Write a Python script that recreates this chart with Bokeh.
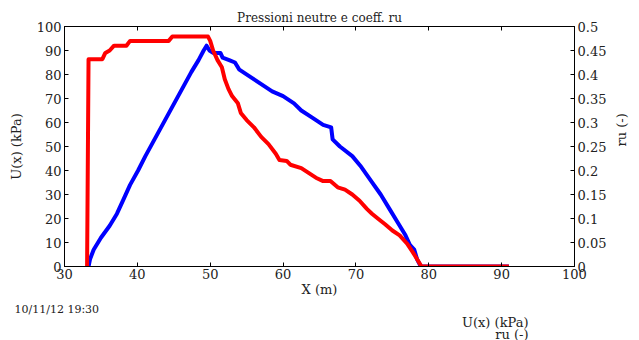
import math
from bokeh.plotting import figure
from bokeh.layouts import column
from bokeh.models import (Range1d, LinearAxis, FixedTicker, Label, Legend, LegendItem, Title)
from bokeh.core.properties import value
from bokeh.embed import file_html
from bokeh.resources import INLINE

# ---- data ----
u_x = [33.3, 33.5, 34.0, 35.0, 36.2, 37.2, 38.1, 39.0, 40.1, 41.1, 42.0, 42.9, 43.8, 44.7,
       45.6, 46.5, 47.4, 48.4, 49.1, 49.5, 49.9, 50.4, 51.4, 51.7, 52.6, 53.4, 54.0, 55.5,
       57.0, 58.5, 60.0, 61.5, 62.5, 64.0, 65.5, 66.6, 66.8, 67.8, 69.5, 70.6, 72.0, 73.4,
       74.6, 75.8, 76.8, 77.4, 78.0, 78.4, 78.9, 91.0]
u_val = [0, 3, 7, 12, 17, 22, 28, 34, 40, 46, 51, 56, 61, 66,
         71, 76, 81, 86, 90, 92, 90, 89, 89, 87, 86, 85, 82, 79,
         76, 73, 71, 68, 65, 62, 59, 58, 53, 50, 46, 42, 36, 30,
         24, 18, 13, 9, 7, 3, 0, 0]

ru_x = [33.1, 33.3, 35.2, 35.6, 36.2, 36.8, 38.5, 39.0, 44.3, 44.8, 49.7, 50.0, 50.4, 51.0,
        51.6, 52.0, 52.5, 53.0, 53.8, 54.2, 55.0, 56.0, 57.0, 58.0, 59.0, 59.5, 60.5, 61.0,
        62.5, 63.5, 64.5, 65.5, 66.5, 67.5, 68.5, 69.5, 70.5, 71.5, 72.2, 73.0, 74.0, 75.0,
        76.0, 77.0, 77.8, 78.4, 79.0, 91.0]
ru_val = [0.0, 0.432, 0.432, 0.445, 0.45, 0.46, 0.46, 0.47, 0.47, 0.479, 0.479, 0.47, 0.45, 0.43,
          0.415, 0.39, 0.37, 0.355, 0.34, 0.32, 0.305, 0.29, 0.27, 0.255, 0.235, 0.222, 0.22, 0.212,
          0.205, 0.195, 0.185, 0.178, 0.178, 0.165, 0.16, 0.15, 0.137, 0.12, 0.11, 0.1, 0.088, 0.075,
          0.065, 0.048, 0.03, 0.015, 0.0, 0.0]

x_ticks = [30, 40, 50, 60, 70, 80, 90, 100]
u_ticks = [0, 10, 20, 30, 40, 50, 60, 70, 80, 90, 100]
ru_ticks = [0, 0.05, 0.1, 0.15, 0.2, 0.25, 0.3, 0.35, 0.4, 0.45, 0.5]

title_text = "Pressioni neutre e coeff. ru"
x_label = "X (m)"
u_label = "U(x) (kPa)"
ru_label = "ru (-)"
date_text = "10/11/12 19:30"

FONT = "DejaVu Serif"
TXT = "#222222"
BLUE = "#0000ff"
RED = "#ff0000"

MAIN_H = 316
FOOT_H = 340 - MAIN_H

p = figure(width=639, height=MAIN_H, output_backend="svg", toolbar_location=None,
           x_range=Range1d(30, 100), y_range=Range1d(0, 100),
           min_border_left=64, min_border_right=65, min_border_top=26,
           min_border_bottom=MAIN_H - 269,
           x_axis_location=None, y_axis_location=None)
p.extra_y_ranges = {"ru": Range1d(0, 0.5)}
p.xgrid.visible = False
p.ygrid.visible = False
p.outline_line_color = "#000000"
p.outline_line_width = 1
p.background_fill_color = "white"
p.border_fill_color = "white"

p.title.text = title_text
p.title.align = "center"
p.title.text_font = FONT
p.title.text_font_size = "12px"
p.title.text_font_style = "normal"
p.title.text_color = TXT
p.title.standoff = 3
p.title.offset = 0


def style(ax, size="13px"):
    ax.major_tick_in = 4
    ax.major_tick_out = 0
    ax.minor_tick_line_color = None
    ax.axis_line_color = "#000000"
    ax.major_tick_line_color = "#000000"
    ax.major_label_text_font = FONT
    ax.major_label_text_font_size = size
    ax.major_label_text_color = TXT
    ax.axis_label_text_font = FONT
    ax.axis_label_text_font_size = "13px"
    ax.axis_label_text_font_style = "normal"
    ax.axis_label_text_color = TXT


xb = LinearAxis(ticker=FixedTicker(ticks=x_ticks), axis_label=x_label)
style(xb)
xb.major_label_standoff = 2
xb.axis_label_standoff = 0
p.add_layout(xb, "below")

# date stamp under the x axis
p.add_layout(Title(text=date_text, align="left", offset=-50, standoff=2,
                   text_font=FONT, text_font_size="11px", text_font_style="normal",
                   text_color=TXT), "below")

xt = LinearAxis(ticker=FixedTicker(ticks=x_ticks))
style(xt)
xt.major_label_text_font_size = "0px"
xt.major_label_standoff = 0
p.add_layout(xt, "above")

yl = LinearAxis(ticker=FixedTicker(ticks=u_ticks), axis_label=u_label)
style(yl)
yl.major_label_standoff = 3
yl.axis_label_standoff = 10
p.add_layout(yl, "left")

yr = LinearAxis(y_range_name="ru", ticker=FixedTicker(ticks=ru_ticks), axis_label=ru_label)
style(yr)
yr.major_label_standoff = 3
yr.axis_label_standoff = 12
yr.axis_label_orientation = math.pi / 2
p.add_layout(yr, "right")

p.line(u_x, u_val, line_color=BLUE, line_width=4, line_join="round")
p.line(ru_x, ru_val, y_range_name="ru", line_color=RED, line_width=4, line_join="round")

# ---- footer strip: legend (frame of this strip is aligned with the main frame) ----
f = figure(width=639, height=FOOT_H, output_backend="svg", toolbar_location=None,
           x_range=Range1d(0, 1), y_range=Range1d(0, 1),
           min_border=0, x_axis_location=None, y_axis_location=None)
f.xgrid.visible = False
f.ygrid.visible = False
f.outline_line_color = None
f.background_fill_color = "white"
f.border_fill_color = "white"

s_u = f.line([], [], line_color=BLUE, line_width=4)
s_ru = f.line([], [], line_color=RED, line_width=4)
legend = Legend(items=[LegendItem(label=value(" "), renderers=[s_u]),
                       LegendItem(label=value(" "), renderers=[s_ru])],
                location=(474, 0), orientation="vertical",
                glyph_width=35, glyph_height=12, label_width=1, label_height=12,
                label_text_font_size="10px",
                label_standoff=0, padding=0, spacing=0, margin=0,
                border_line_color=None, background_fill_alpha=0)
f.add_layout(legend, "center")

for txt, yoff in [(u_label, 18), (ru_label, 6)]:
    f.add_layout(Label(x=464, y=yoff, x_units="screen", y_units="screen", text=txt,
                       text_align="right", text_baseline="middle", text_font=FONT,
                       text_font_size="13px", text_color=TXT))

open("out.html", "w").write(file_html(column(p, f, spacing=0), INLINE))
